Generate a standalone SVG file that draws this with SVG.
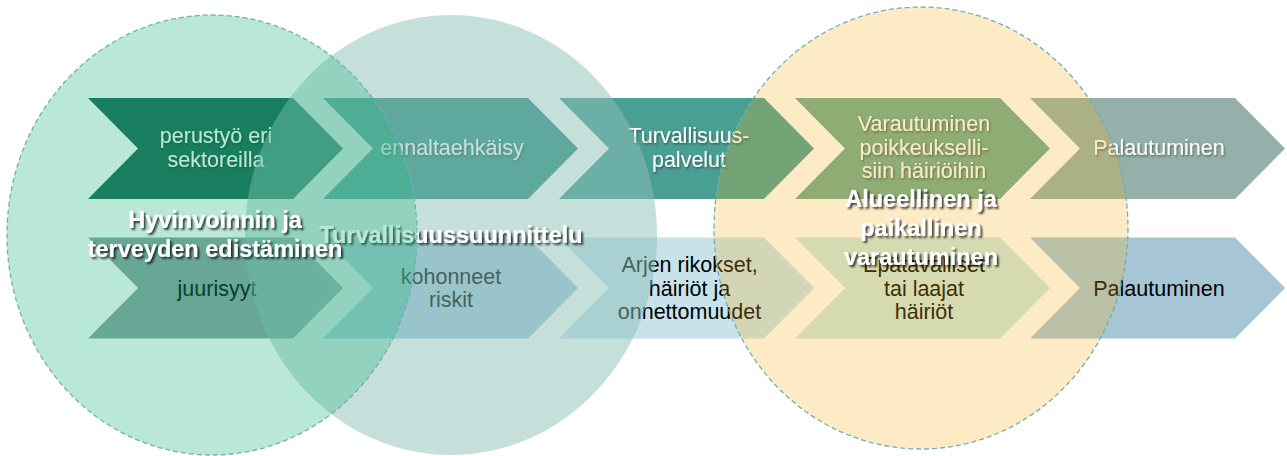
<svg xmlns="http://www.w3.org/2000/svg" width="1287" height="456" viewBox="0 0 1287 456">
<defs>
<filter id="ts" x="-10%" y="-30%" width="120%" height="160%">
<feDropShadow dx="1" dy="1.5" stdDeviation="0.8" flood-color="#000" flood-opacity="0.45"/>
</filter>
<filter id="ls" x="-10%" y="-30%" width="120%" height="160%">
<feDropShadow dx="2" dy="2" stdDeviation="1.3" flood-color="#000" flood-opacity="0.75"/>
</filter>
<filter id="ds" x="-2%" y="-200%" width="104%" height="500%">
<feDropShadow dx="0.5" dy="2" stdDeviation="1" flood-color="#000" flood-opacity="0.25"/>
</filter>
<style>
.ct{font-family:"Liberation Sans",Arial,sans-serif;font-size:21.5px;text-anchor:middle}
.tw{fill:#ffffff;filter:url(#ts)}
.tb{fill:#000000}
.lbl{font-family:"Liberation Sans",Arial,sans-serif;font-size:23.5px;font-weight:bold;fill:#ffffff;text-anchor:middle;filter:url(#ls)}
.circ{stroke:#6fb0b4;stroke-width:1.3;stroke-dasharray:5 3}
</style>
</defs>
<rect width="1287" height="456" fill="#ffffff"/>

<g id="top-chevrons">
<g id="t1"><path d="M88,98 H293 L343,148.5 L293,199 H88 L138,148.5Z" fill="#13644f"/>
<text class="ct tw" x="216" y="143">perustyö eri</text><text class="ct tw" x="216" y="166.5">sektoreilla</text></g>
<g id="t2"><path d="M323,98 H528 L578,148.5 L528,199 H323 L373,148.5Z" fill="#329084"/>
<text class="ct tw" x="452" y="155">ennaltaehkäisy</text></g>
<g id="t3"><path d="M559,98 H764 L814,148.5 L764,199 H559 L609,148.5Z" fill="#4a9f94"/>
<text class="ct tw" x="689" y="143">Turvallisuus-</text><text class="ct tw" x="689" y="166.5">palvelut</text></g>
<g id="t4"><path d="M795,98 H1000 L1050,148.5 L1000,199 H795 L845,148.5Z" fill="#6dab93"/>
<text class="ct tw" x="924" y="131">Varautuminen</text><text class="ct tw" x="924" y="154.5">poikkeukselli-</text><text class="ct tw" x="924" y="178">siin häiriöihin</text></g>
<g id="t5"><path d="M1030,98 H1235 L1285,148.5 L1235,199 H1030 L1080,148.5Z" fill="#95b0aa"/>
<text class="ct tw" x="1159" y="155">Palautuminen</text></g>
</g>

<g id="bottom-chevrons">
<g id="b1"><path d="M88,237.5 H293 L343,288 L293,338.5 H88 L138,288Z" fill="#869f9f"/>
<text class="ct tb" x="217" y="295.5">juurisyyt</text></g>
<g id="b2"><path d="M323,237.5 H528 L578,288 L528,338.5 H323 L373,288Z" fill="#a4c8dc"/>
<text class="ct tb" x="451" y="283.5">kohonneet</text><text class="ct tb" x="451" y="307">riskit</text></g>
<g id="b3"><path d="M559,237.5 H764 L814,288 L764,338.5 H559 L609,288Z" fill="#c8e2ec"/>
<text class="ct tb" x="689.5" y="272">Arjen rikokset,</text><text class="ct tb" x="689.5" y="295.5">häiriöt ja</text><text class="ct tb" x="689.5" y="319">onnettomuudet</text></g>
<g id="b4"><path d="M795,237.5 H1000 L1050,288 L1000,338.5 H795 L845,288Z" fill="#cce8e3"/>
<text class="ct tb" x="924" y="272">Epätavalliset</text><text class="ct tb" x="924" y="295.5">tai laajat</text><text class="ct tb" x="924" y="319">häiriöt</text></g>
<g id="b5"><path d="M1030,237.5 H1235 L1285,288 L1235,338.5 H1030 L1080,288Z" fill="#a6c6d6"/>
<text class="ct tb" x="1159" y="295.5">Palautuminen</text></g>
</g>

<g id="connectors">
<line x1="67" y1="220" x2="1287" y2="220" stroke="#8cc4bc" stroke-width="4" stroke-dasharray="25 11" filter="url(#ds)"/>
</g>

<g id="turvallisuussuunnittelu">
<ellipse cx="451" cy="235" rx="206" ry="220" fill="#8cc0b8" fill-opacity="0.5"/>
<text class="lbl" x="451" y="243">Turvallisuussuunnittelu</text>
</g>

<g id="hyvinvointi">
<ellipse class="circ" cx="212" cy="235" rx="205" ry="220" fill="#28b883" fill-opacity="0.32"/>
<text class="lbl" x="215" y="228">Hyvinvoinnin ja</text>
<text class="lbl" x="215" y="257">terveyden edistäminen</text>
</g>

<g id="varautuminen">
<ellipse class="circ" cx="921" cy="228" rx="207" ry="221" fill="#f5af19" fill-opacity="0.25"/>
<text class="lbl" x="921" y="207">Alueellinen ja</text>
<text class="lbl" x="921" y="236">paikallinen</text>
<text class="lbl" x="921" y="265">varautuminen</text>
</g>
</svg>
